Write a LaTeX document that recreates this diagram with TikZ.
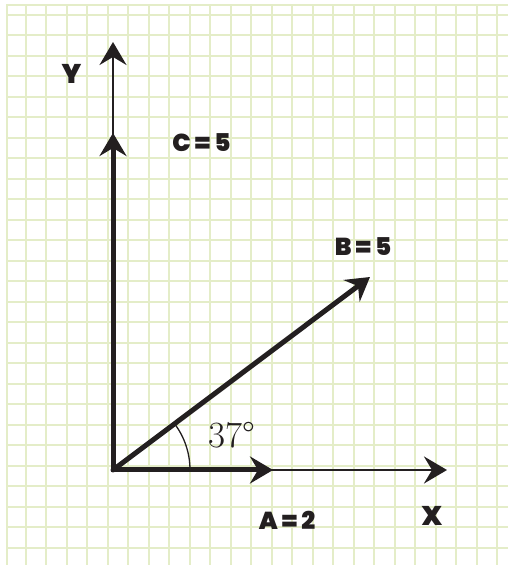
\documentclass[tikz,border=0pt]{standalone}
\usepackage{fontspec}
\newfontfamily\heavyfont{Poppins Black}
\usetikzlibrary{arrows.meta,positioning,calc}
\definecolor{gridgreen}{HTML}{E4EDC8}
\definecolor{inkblack}{HTML}{231F20}
\tikzset{
  gridline/.style={draw=gridgreen,line width=2pt},
  axisarrow/.style={-{Stealth[length=23pt,width=27pt,inset=8pt]},line width=2.4pt,draw=inkblack,fill=inkblack},
  vecarrow/.style={-{Stealth[length=23pt,width=27pt,inset=8pt]},line width=5pt,draw=inkblack,fill=inkblack},
  veclabel/.style={font=\heavyfont\fontsize{24.5}{24.5}\selectfont,text=inkblack,inner sep=0pt},
  axislabel/.style={font=\heavyfont\fontsize{27}{27}\selectfont,text=inkblack,inner sep=0pt},
  anglelabel/.style={font=\fontsize{37}{37}\selectfont,text=inkblack,inner sep=0pt}
}

\begin{document}
\begin{tikzpicture}[x=1pt,y=1pt]
  \useasboundingbox (0,0) rectangle (508,565);
  \fill[white] (0,0) rectangle (508,565);

  % graph paper
  \foreach \k in {0,...,23}
    \draw[gridline] ({25.5+20.5*\k},0) -- ({25.5+20.5*\k},560);
  \foreach \k in {0,...,26}
    \draw[gridline] (7,{550-20.5*\k}) -- (508,{550-20.5*\k});
  \draw[gridline] (7,0) -- (7,560) -- (508,560);

  \coordinate (O) at (113,95);
  \coordinate (ytip) at (113,523);
  \coordinate (xtip) at (447,95);
  \coordinate (ctip) at (113,432);
  \coordinate (atip) at (273,95);
  \coordinate (btip) at (370,288);

  % axes
  \draw[axisarrow] (O) -- (ytip);
  \draw[axisarrow] (O) -- (xtip);

  % vectors
  \draw[vecarrow] (O) -- (ctip);
  \draw[vecarrow] (O) -- (atip);
  \draw[vecarrow,line cap=round] (O) -- (btip);
  \fill[inkblack] (110.5,92.5) rectangle (115.5,97.5);

  % angle
  \draw[line width=1.3pt,draw=inkblack] ($(O)+(77,0)$) arc[start angle=0,end angle=37,radius=77];

  \node[axislabel] (ylab) at (71.5,491.5) {Y};
  \node[axislabel] (xlab) at (432,49) {X};
  \node[veclabel] (clab) at (201.5,422) {C\,=\,5};
  \node[veclabel] (blab) at (363,318.5) {B\,=\,5};
  \node[veclabel] (alab) at (287,45) {A\,=\,2};
  \node[anglelabel] (anglab) at (232,130) {37\textdegree};
\end{tikzpicture}
\end{document}
